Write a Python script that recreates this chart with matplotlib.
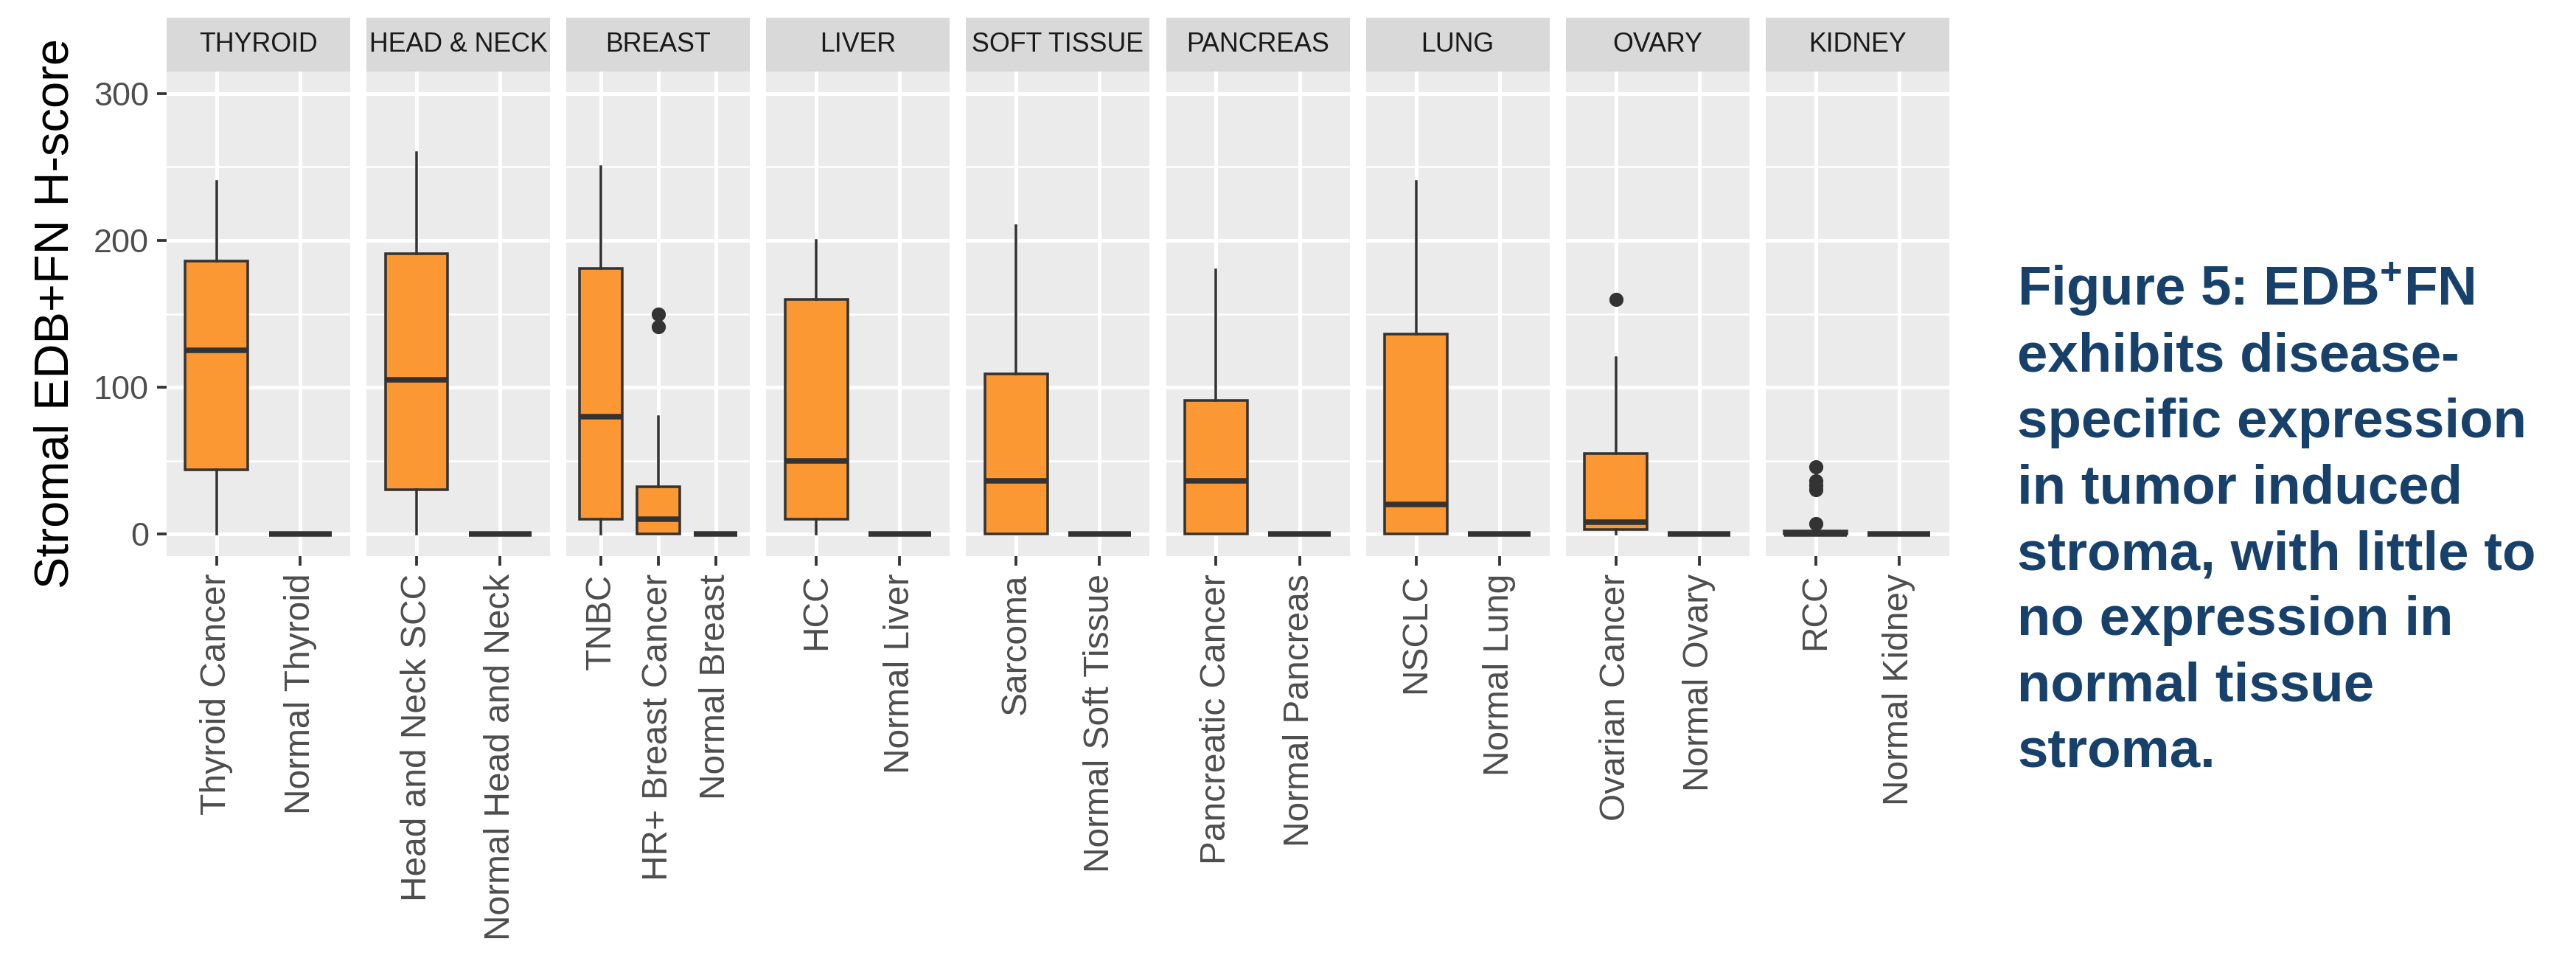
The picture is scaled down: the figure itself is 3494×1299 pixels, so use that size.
import matplotlib
matplotlib.use("Agg")
import matplotlib.pyplot as plt
from matplotlib.patches import Rectangle

plt.rcParams['font.family'] = ['Liberation Sans', 'DejaVu Sans']
plt.rcParams['mathtext.default'] = 'regular'

# panels (facets) and the categories inside each one
panels = ["THYROID", "HEAD & NECK", "BREAST", "LIVER", "SOFT TISSUE",
          "PANCREAS", "LUNG", "OVARY", "KIDNEY"]
categories = ["Thyroid Cancer", "Normal Thyroid",
              "Head and Neck SCC", "Normal Head and Neck",
              "TNBC", "HR+ Breast Cancer", "Normal Breast",
              "HCC", "Normal Liver",
              "Sarcoma", "Normal Soft Tissue",
              "Pancreatic Cancer", "Normal Pancreas",
              "NSCLC", "Normal Lung",
              "Ovarian Cancer", "Normal Ovary",
              "RCC", "Normal Kidney"]
panel_of = [0, 0, 1, 1, 2, 2, 2, 3, 3, 4, 4, 5, 5, 6, 6, 7, 7, 8, 8]

# box statistics (H-score)
whis_lo = [0, 0, 0, 0, 0, 0, 0, 0, 0, 0, 0, 0, 0, 0, 0, 0, 0, 0, 0]
q1 = [44, 0, 30, 0, 10, 0, 0, 10, 0, 0, 0, 0, 0, 0, 0, 3, 0, 0, 0]
median = [125, 0, 105, 0, 80, 10, 0, 50, 0, 36, 0, 36, 0, 20, 0, 8, 0, 0, 0]
q3 = [186, 0, 191, 0, 181, 32, 0, 160, 0, 109, 0, 91, 0, 136, 0, 55, 0, 2, 0]
whis_hi = [240, 0, 260, 0, 250, 80, 0, 200, 0, 210, 0, 180, 0, 240, 0, 120, 0, 2, 0]
outliers = [[], [], [], [], [], [141, 150], [], [], [], [], [], [], [], [], [],
            [160], [], [7, 30, 33, 36, 46], []]

y_ticks = [0, 100, 200, 300]
y_label = "Stromal EDB+FN H-score"
caption = ["Figure 5: EDB$^{+}$FN", "exhibits disease-", "specific expression",
           "in tumor induced", "stroma, with little to", "no expression in",
           "normal tissue", "stroma."]

W, H = 3494, 1299
fig = plt.figure(figsize=(W / 300, H / 300), dpi=300)

left0 = 226 / W
pw = 249 / W
pitch = 271.1 / W
bottom = 1 - 754 / H
height = (754 - 97) / H
strip_h = 73 / 657

box_fill = "#FB9834"
dark = "#333333"

for p, name in enumerate(panels):
    ax = fig.add_axes([left0 + p * pitch, bottom, pw, height])
    idx = [i for i, k in enumerate(panel_of) if k == p]
    stats = []
    for i in idx:
        stats.append(dict(med=median[i], q1=q1[i], q3=q3[i], whislo=whis_lo[i],
                          whishi=whis_hi[i], fliers=outliers[i], label=categories[i]))
    pos = list(range(1, len(idx) + 1))
    ax.bxp(stats, positions=pos, widths=0.75, patch_artist=True, showcaps=False,
           boxprops=dict(facecolor=box_fill, edgecolor=dark, linewidth=0.85),
           whiskerprops=dict(color=dark, linewidth=0.85),
           medianprops=dict(color=dark, linewidth=1.8, solid_capstyle='butt'),
           flierprops=dict(marker='o', markersize=3.6, markerfacecolor=dark,
                           markeredgecolor=dark, linestyle='none'))
    ax.set_xlim(0.4, len(idx) + 0.6)
    ax.set_ylim(-15, 315)
    ax.set_facecolor("#EBEBEB")
    for s in ax.spines.values():
        s.set_visible(False)
    ax.set_axisbelow(True)
    ax.set_yticks(y_ticks)
    ax.set_yticks([50, 150, 250], minor=True)
    ax.grid(True, which='major', color='white', linewidth=1.2)
    ax.grid(True, which='minor', axis='y', color='white', linewidth=0.6)
    ax.set_xticks(pos)
    ax.set_xticklabels([categories[i] for i in idx], rotation=90, fontsize=11.5,
                       color="#4D4D4D")
    ax.tick_params(axis='x', length=3.2, width=0.9, color=dark, pad=2.5)
    ax.tick_params(axis='y', which='minor', length=0)
    if p == 0:
        ax.tick_params(axis='y', length=3.2, width=0.9, color=dark, pad=2.6,
                       labelsize=10.8, labelcolor="#4D4D4D")
        ax.set_ylabel(y_label, fontsize=15.6, color="black", labelpad=5)
    else:
        ax.tick_params(axis='y', length=0, labelleft=False)
    ax.add_patch(Rectangle((0, 1), 1, strip_h, transform=ax.transAxes,
                           facecolor="#D9D9D9", edgecolor='none', clip_on=False))
    ax.text(0.5, 1 + strip_h / 2, name, transform=ax.transAxes, ha='center',
            va='center', fontsize=8.6, color="#1A1A1A")

# caption on the right
first_base = 1 - 414.5 / H
step = 89.4 / H
for j, line in enumerate(caption):
    fig.text(2736 / W, first_base - j * step, line, ha='left', va='baseline',
             fontsize=17.9, fontweight='bold', color="#17416B")

fig.savefig("out.png", dpi=300)
